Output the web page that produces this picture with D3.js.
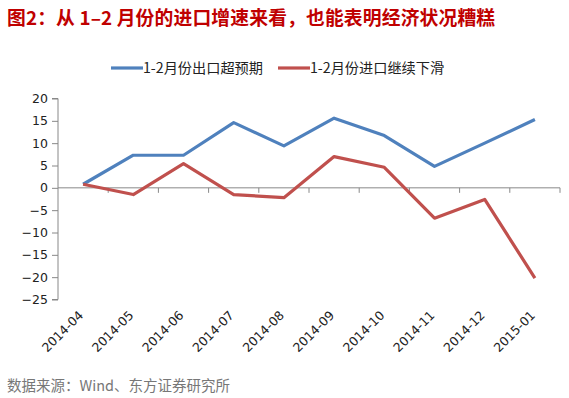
<!DOCTYPE html>
<html><head><meta charset="utf-8">
<script src="https://cdn.jsdelivr.net/npm/d3@7"></script>
<style>
html,body{margin:0;padding:0;background:#fff;}
svg{display:block;font-family:"Liberation Sans","DejaVu Sans",sans-serif;}
</style></head>
<body><svg id="c" width="569" height="398"></svg>
<script>
const categories = ["2014-04","2014-05","2014-06","2014-07","2014-08","2014-09","2014-10","2014-11","2014-12","2015-01"];
const exportsSeries = [0.8, 7.3, 7.3, 14.6, 9.4, 15.6, 11.7, 4.8, 10.0, 15.3];
const importsSeries = [0.8, -1.5, 5.4, -1.5, -2.2, 7.0, 4.6, -6.8, -2.6, -20.2];
const seriesNames = ["1-2月份出口超预期", "1-2月份进口继续下滑"];
const yTicks = [20, 15, 10, 5, 0, -5, -10, -15, -20, -25];
const title = "图2：从 1–2 月份的进口增速来看，也能表明经济状况糟糕";
const source = "数据来源：Wind、东方证券研究所";

const svg = d3.select("#c");
const cjk = '"Noto Sans CJK SC", sans-serif';

svg.append("text").attr("x", 7).attr("y", 25)
  .attr("font-family", cjk).attr("font-weight", "bold").attr("font-size", 18.8)
  .attr("letter-spacing", 0.15)
  .attr("fill", "#c00000").text(title);

const x = d3.scaleBand().domain(categories).range([58, 560]);
const y = d3.scaleLinear().domain([-25, 20]).range([299.5, 98.5]);

// y axis
const yAxis = svg.append("g").attr("transform", "translate(58,0)")
  .call(d3.axisLeft(y).tickValues(yTicks).tickSize(6).tickPadding(4).tickFormat(d3.format("d")));
yAxis.select(".domain").attr("stroke", "#888").attr("d", `M-6,${y(20)}H0V${y(-25)}H-6`);
yAxis.selectAll(".tick line").attr("stroke", "#888");
yAxis.selectAll(".tick text").attr("fill", "#222").attr("font-size", 12.5)
  .attr("font-family", '"DejaVu Sans", sans-serif');

// x axis at zero
const xAxis = svg.append("g").attr("transform", `translate(0,${y(0)})`);
xAxis.append("line").attr("x1", 58).attr("x2", 560).attr("y1", 0).attr("y2", 0).attr("stroke", "#888");
const bounds = categories.map(c => x(c)).concat([x(categories[categories.length-1]) + x.bandwidth()]);
xAxis.selectAll("line.tk").data(bounds.slice(1)).enter().append("line").attr("class","tk")
  .attr("x1", d => d).attr("x2", d => d).attr("y1", 0).attr("y2", 5).attr("stroke", "#888");

// x labels rotated
svg.append("g").selectAll("text").data(categories).enter().append("text")
  .attr("transform", d => `translate(${x(d) + x.bandwidth()/2 + 1},316) rotate(-45)`)
  .attr("text-anchor", "end").attr("font-size", 12.5).attr("fill", "#222")
  .attr("font-family", '"DejaVu Sans", sans-serif')
  .text(d => d);

const line = d3.line().x((d, i) => x(categories[i]) + x.bandwidth()/2).y(d => y(d));
const colors = ["#4f81bd", "#c0504d"];
[exportsSeries, importsSeries].forEach((s, k) => {
  svg.append("path").datum(s).attr("d", line).attr("fill", "none")
    .attr("stroke", colors[k]).attr("stroke-width", 3.2).attr("stroke-linejoin", "round");
});

// legend
const legX = [111, 278];
seriesNames.forEach((n, k) => {
  svg.append("line").attr("x1", legX[k]).attr("x2", legX[k] + 32).attr("y1", 68).attr("y2", 68)
    .attr("stroke", colors[k]).attr("stroke-width", 3.2);
  svg.append("text").attr("x", legX[k] + 32).attr("y", 73).attr("font-size", 14.2)
    .attr("font-family", cjk).attr("fill", "#222").text(n);
});

svg.append("text").attr("x", 7).attr("y", 391).attr("font-size", 14.5)
  .attr("font-family", cjk).attr("fill", "#777").text(source);
</script></body></html>
